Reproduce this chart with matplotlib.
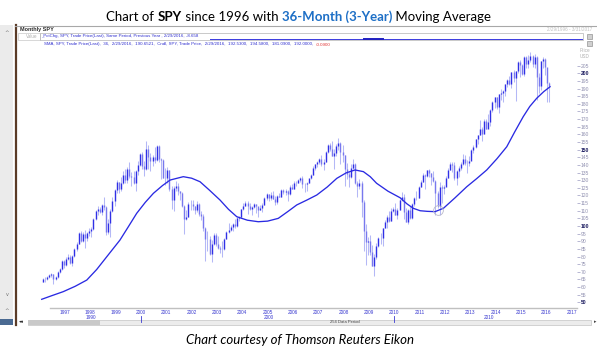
import matplotlib
matplotlib.use("Agg")
import matplotlib.pyplot as plt
from matplotlib.patches import Rectangle
import numpy as np
import pandas as pd

plt.rcParams['font.family'] = ['Lato', 'DejaVu Sans']

# monthly SPY bars, Feb 1996 .. Feb 2016 (one row per year)
closes = [
    65.0, 65.5, 66.4, 68.0, 68.3, 65.1, 66.5, 70.0, 71.9, 77.4, 74.6,
    78.6, 79.4, 75.7, 80.3, 85.2, 88.5, 95.6, 90.1, 94.8, 91.9, 95.6, 97.0,
    98.0, 104.8, 110.1, 111.1, 109.3, 113.6, 112.5, 95.9, 102.2, 110.1, 116.3, 123.3,
    128.5, 124.4, 128.4, 133.4, 130.1, 137.3, 132.9, 132.1, 128.3, 136.3, 140.0, 146.9,
    139.6, 137.4, 150.4, 145.1, 142.8, 145.3, 143.2, 152.2, 143.6, 143.0, 131.5, 131.2,
    136.9, 124.4, 116.7, 125.2, 126.2, 122.9, 121.5, 113.4, 104.4, 106.1, 114.1, 114.3,
    113.2, 110.7, 114.5, 107.7, 106.6, 98.9, 91.3, 91.6, 81.8, 88.5, 93.9, 88.2,
    85.9, 84.7, 84.7, 91.6, 96.3, 97.6, 99.3, 101.2, 99.9, 105.4, 106.2, 111.3,
    113.1, 114.8, 113.1, 110.9, 112.6, 114.5, 113.3, 110.5, 111.7, 113.7, 118.1, 120.9,
    118.2, 120.6, 118.0, 115.8, 119.5, 119.2, 123.9, 122.4, 123.0, 120.8, 125.4, 124.5,
    128.0, 128.2, 129.8, 131.5, 127.5, 127.3, 128.4, 131.4, 133.6, 138.0, 140.3, 141.6,
    144.2, 140.9, 142.0, 148.3, 153.3, 150.4, 145.7, 147.6, 152.6, 154.6, 148.7, 146.2,
    137.4, 133.8, 131.9, 138.3, 140.4, 128.0, 126.4, 128.1, 116.0, 96.8, 89.7, 90.2,
    82.8, 73.9, 79.5, 87.0, 92.0, 91.9, 98.8, 102.5, 105.6, 103.6, 109.9, 111.4,
    107.4, 110.7, 117.0, 118.8, 109.4, 102.9, 110.3, 105.3, 114.1, 118.5, 118.5, 125.8,
    128.7, 133.2, 132.6, 136.5, 134.9, 132.4, 129.3, 121.8, 113.2, 125.5, 124.9, 125.5,
    131.3, 137.0, 140.8, 139.9, 131.5, 136.1, 137.7, 140.6, 144.0, 141.4, 141.5, 142.4,
    149.7, 151.6, 156.7, 159.7, 163.5, 160.4, 168.7, 163.7, 168.0, 175.8, 181.0, 184.7,
    178.2, 186.3, 187.0, 188.3, 192.7, 195.7, 193.1, 200.7, 197.0, 201.7, 207.2, 205.5,
    199.5, 210.7, 206.4, 208.5, 211.1, 205.9, 210.5, 197.7, 191.6, 207.9, 209.3, 203.9,
    193.7, 192.0,
]
highs = [
    66.2, 66.4, 67.3, 68.7, 68.9, 68.5, 67.5, 70.4, 72.6, 77.6, 77.5,
    79.5, 81.5, 80.8, 80.9, 85.6, 89.7, 95.9, 96.5, 96.2, 97.6, 96.3, 98.5,
    99.3, 105.3, 110.8, 112.8, 112.5, 114.1, 119.0, 112.8, 104.7, 111.2, 119.0, 124.0,
    129.9, 129.0, 132.0, 136.2, 137.3, 138.9, 142.2, 135.5, 136.2, 137.0, 142.6, 147.6,
    148.3, 142.4, 155.8, 153.3, 147.5, 146.8, 151.8, 153.3, 152.9, 144.8, 143.8, 137.9,
    138.5, 137.0, 126.1, 126.0, 129.3, 128.2, 123.1, 122.4, 113.9, 110.5, 115.9, 117.2,
    117.2, 113.2, 116.2, 114.8, 109.6, 107.6, 99.4, 96.8, 93.5, 90.9, 95.4, 95.6,
    93.2, 86.9, 90.4, 92.0, 96.9, 101.7, 100.6, 101.9, 104.6, 105.8, 106.4, 111.3,
    115.2, 116.1, 116.1, 115.1, 113.2, 115.0, 114.6, 112.5, 113.6, 114.8, 118.8, 121.7,
    121.0, 122.3, 123.2, 119.4, 120.6, 121.6, 124.3, 124.1, 124.5, 123.6, 126.7, 127.6,
    129.6, 129.3, 131.0, 132.0, 132.7, 127.9, 128.6, 130.3, 134.0, 139.0, 140.9, 142.6,
    144.5, 146.4, 143.6, 149.0, 153.5, 154.4, 155.5, 150.4, 153.4, 157.5, 155.1, 152.9,
    146.5, 141.5, 136.1, 140.6, 144.1, 141.3, 129.4, 130.9, 129.5, 116.9, 101.5, 92.5,
    94.4, 87.8, 81.5, 88.6, 93.0, 95.1, 99.0, 104.0, 107.3, 109.9, 111.6, 112.7,
    115.1, 111.6, 117.7, 122.1, 120.7, 111.8, 111.0, 113.0, 115.2, 119.3, 122.9, 126.2,
    130.4, 134.7, 133.8, 136.9, 137.2, 135.0, 135.7, 130.0, 122.8, 128.5, 126.6, 127.1,
    132.7, 138.1, 142.2, 142.2, 141.9, 136.4, 139.5, 142.1, 147.2, 146.4, 142.9, 145.6,
    150.3, 153.3, 156.9, 159.7, 169.1, 164.6, 170.1, 170.0, 173.6, 176.3, 181.8, 184.7,
    184.7, 186.7, 189.7, 189.0, 193.0, 196.5, 198.3, 200.8, 201.9, 201.8, 207.8, 209.0,
    206.3, 211.2, 211.5, 211.9, 213.8, 212.3, 212.7, 211.3, 200.5, 208.0, 211.0, 210.0,
    201.2, 194.6,
]
lows = [
    63.2, 63.4, 64.6, 65.8, 66.5, 61.8, 64.8, 65.8, 69.5, 71.3, 72.4,
    73.6, 77.8, 75.3, 73.7, 79.9, 83.6, 88.2, 89.5, 89.5, 85.5, 90.5, 93.5,
    92.7, 97.2, 104.0, 107.4, 108.3, 107.4, 110.7, 94.2, 94.6, 92.8, 109.4, 113.0,
    121.5, 121.8, 122.6, 127.8, 128.0, 128.0, 131.7, 126.1, 127.4, 122.6, 133.3, 139.4,
    137.3, 132.7, 136.7, 137.4, 136.1, 139.2, 141.1, 142.8, 141.6, 130.7, 131.2, 126.6,
    128.3, 123.0, 111.3, 109.8, 123.0, 120.3, 117.3, 112.5, 94.5, 104.2, 105.6, 110.6,
    110.2, 107.7, 109.4, 106.7, 104.0, 96.6, 77.1, 83.7, 80.9, 76.3, 87.4, 87.1,
    84.9, 82.6, 79.9, 84.3, 91.4, 95.7, 96.4, 96.4, 99.0, 99.5, 103.1, 105.4,
    110.2, 112.8, 108.0, 110.4, 107.5, 111.9, 108.6, 106.2, 110.3, 108.9, 113.5, 117.0,
    116.3, 117.2, 117.4, 113.5, 114.5, 118.7, 119.0, 121.0, 120.0, 116.5, 120.6, 124.2,
    124.5, 126.0, 127.9, 128.5, 124.9, 122.2, 122.9, 127.9, 130.9, 133.3, 136.8, 138.8,
    140.4, 139.0, 136.8, 141.6, 147.7, 148.9, 145.6, 137.1, 145.8, 149.6, 140.6, 141.6,
    126.0, 131.1, 125.7, 131.2, 137.4, 127.4, 119.1, 124.0, 106.1, 83.9, 74.3, 81.0,
    80.8, 73.9, 67.1, 78.5, 86.0, 88.3, 87.2, 98.6, 98.4, 102.6, 103.5, 109.4,
    107.0, 104.6, 110.6, 116.4, 104.4, 102.9, 101.1, 104.5, 104.8, 113.2, 116.7, 118.3,
    125.7, 128.5, 124.0, 132.1, 132.2, 126.6, 128.9, 107.4, 112.0, 107.4, 115.1, 120.8,
    126.4, 131.4, 136.4, 135.3, 129.8, 127.1, 131.8, 136.6, 139.9, 140.1, 134.5, 139.2,
    145.3, 148.0, 151.4, 153.6, 159.7, 155.7, 160.3, 163.7, 164.0, 165.5, 174.9, 177.3,
    176.5, 173.7, 182.7, 181.3, 185.0, 191.2, 192.4, 190.5, 194.0, 181.9, 200.3, 197.9,
    198.6, 198.3, 203.3, 203.2, 207.1, 204.0, 203.4, 182.4, 187.3, 189.1, 203.4, 198.6,
    181.0, 181.1,
]
first_open = 63.6

# 36-month simple moving average (decimal year, price)
ma_years = [1996.08, 1996.5, 1996.93, 1997.4, 1997.86, 1998.25, 1998.65, 1999.17, 1999.5,
            1999.83, 2000.17, 2000.49, 2000.85, 2001.15, 2001.67, 2002.0, 2002.33, 2002.7,
            2003.12, 2003.45, 2003.78, 2004.2, 2004.63, 2005.0, 2005.42, 2005.8, 2006.15,
            2006.55, 2006.94, 2007.35, 2007.73, 2008.1, 2008.45, 2008.78, 2009.05, 2009.3,
            2009.75, 2010.23, 2010.5, 2010.75, 2011.02, 2011.3, 2011.61, 2011.94, 2012.4,
            2012.86, 2013.25, 2013.65, 2014.05, 2014.44, 2014.75, 2015.09, 2015.35, 2015.62,
            2015.9, 2016.15]
ma_values = [52.0, 54.5, 57.0, 60.5, 64.6, 71.5, 79.9, 90.8, 99.5,
             108.3, 115.5, 121.4, 126.5, 130.1, 132.3, 131.3, 129.0, 123.5,
             117.0, 111.0, 106.1, 103.8, 102.8, 103.2, 105.0, 109.5, 113.8,
             117.0, 120.3, 125.5, 131.2, 134.8, 136.7, 135.6, 132.3, 128.0,
             122.8, 118.5, 114.5, 111.6, 110.0, 109.6, 109.4, 111.6, 118.5,
             125.7, 131.0, 136.7, 144.0, 151.9, 161.5, 171.6, 178.3, 183.6,
             188.0, 191.2]

marker_point = (2011.74, 110.5)
year_ticks = list(range(1997, 2018))
decade_labels = [(1998.0, '1990'), (2005.05, '2000'), (2013.73, '2010')]
decade_marks = [2000, 2010]
price_ticks = list(range(50, 206, 5))

W, H = 597, 351
fig = plt.figure(figsize=(W / 100, H / 100), dpi=100)

# pixel <-> data helpers for the screenshot-like layout
def t_at(px):
    return 1997 + (px - 65) / 25.33

def v_at(py):
    return 100 + (226 - py) / 1.527

# background layer in pixel coordinates
bg = fig.add_axes([0, 0, 1, 1], zorder=0)
bg.set_xlim(0, W)
bg.set_ylim(H, 0)
bg.axis('off')

bg.add_patch(Rectangle((0, 25), 13, 300, color='#ebebeb', lw=0))
bg.plot([15.8, 15.8], [25, 325], color='#5b3c28', lw=1.6)
bg.plot([15, W], [25.5, 25.5], color='#a8a8a8', lw=0.8)
bg.text(7, 32, '^', fontsize=4, color='#707070', ha='center', va='center', family='DejaVu Sans')
bg.text(7, 294, 'v', fontsize=3.5, color='#707070', ha='center', va='center', family='DejaVu Sans')
bg.text(7, 311, '^', fontsize=4, color='#707070', ha='center', va='center', family='DejaVu Sans')
bg.add_patch(Rectangle((0, 319), 13, 6, color='#4a6a92', lw=0))
bg.text(21, 322, '◂◂', fontsize=3.5, color='#303030', ha='center', va='center', family='DejaVu Sans')

# scrollbar
bg.add_patch(Rectangle((28, 319.5), 563, 5, facecolor='#ececec', edgecolor='#c4c4c4', lw=0.5))
bg.add_patch(Rectangle((28, 319.5), 72, 5, facecolor='#c9c9c9', lw=0))
bg.text(345, 322.2, '254 Data Period', fontsize=3, color='#404040', ha='center', va='center',
        family='Liberation Sans')
bg.text(595, 322, '▸', fontsize=3.5, color='#404040', ha='center', va='center', family='DejaVu Sans')

# header rows
bg.text(20, 30, 'Monthly SPY', fontsize=4, fontweight='bold', color='#303030', va='center',
        family='Liberation Sans')
bg.add_patch(Rectangle((18, 33), 22, 7, facecolor='none', edgecolor='#c8c8c8', lw=0.5))
bg.text(37, 36.5, 'Value', fontsize=3.3, color='#b0b0b0', ha='right', va='center',
        family='Liberation Sans')
bg.add_patch(Rectangle((40, 33), 543, 7, facecolor='none', edgecolor='#b4b4b4', lw=0.5))
bg.text(41, 35.8, '_PctChg, SPY, Trade Price(Last), Same Period, Previous Year , 2/29/2016, -8.658',
        fontsize=3.2, color='#3030d0', va='center', family='Liberation Sans')
bg.plot([210, 582], [38.6, 38.6], color='#3a3ae0', lw=0.7)
bg.plot([364, 383], [38.6, 38.6], color='#2020c0', lw=1.4)
sma_txt = bg.text(44, 44.5, 'SMA, SPY, Trade Price(Last),  36,  2/29/2016,  190.6521,  Cndl, SPY, '
                  'Trade Price,  2/29/2016,  192.5300,  194.5800,  181.0900,  192.0000,  ',
                  fontsize=3.2, color='#3030d0', va='center', family='Liberation Sans')
bg.text(592, 29.5, '2/29/1996 - 3/31/2017', fontsize=3.3, color='#c0c0c0', ha='right', va='center',
        family='Liberation Sans')
bg.add_patch(Rectangle((587, 33.5), 5, 5, facecolor='#d0d0d0', edgecolor='#808080', lw=0.4))
bg.add_patch(Rectangle((587, 40.5), 5, 5, facecolor='#d0d0d0', edgecolor='#808080', lw=0.4))
bg.text(580, 50.5, 'Price', fontsize=3.3, color='#b0b0b0', va='center', family='Liberation Sans')
bg.text(580, 57, 'USD', fontsize=3.3, color='#b0b0b0', va='center', family='Liberation Sans')

renderer = fig.canvas.get_renderer()
bb = sma_txt.get_window_extent(renderer)
bg.text(44 + bb.width, 44.5, '-0.0900', fontsize=3.2, color='#e03030', va='center',
        family='Liberation Sans')


def centered_parts(parts, xc, py, size, style='normal'):
    objs = []
    for s, color, weight in parts:
        objs.append(bg.text(0, py, s, color=color, fontweight=weight, fontsize=size,
                            style=style, va='center', ha='left'))
    widths = [o.get_window_extent(renderer).width for o in objs]
    x = xc - sum(widths) / 2
    for o, w in zip(objs, widths):
        o.set_x(x)
        x += w


centered_parts([('Chart of ', 'black', 'normal'), ('SPY', 'black', 'bold'),
                (' since 1996 with ', 'black', 'normal'),
                ('36-Month (3-Year)', '#1d6fc6', 'bold'),
                (' Moving Average', 'black', 'normal')], 298.5, 17, 9.5)
centered_parts([('Chart courtesy of Thomson Reuters Eikon', 'black', 'normal')],
               299.5, 340.5, 9.5, style='italic')

# price panel
ax = fig.add_axes([17 / W, 1 - 305 / H, 560 / W, 269 / H], zorder=2)
ax.patch.set_alpha(0)
ax.set_xlim(t_at(17), t_at(577))
ax.set_ylim(v_at(305), v_at(36))
for s in ax.spines.values():
    s.set_visible(False)
ax.set_xticks([])
ax.yaxis.tick_right()
ax.set_yticks(price_ticks)
ax.set_yticklabels([str(p) for p in price_ticks])
ax.tick_params(axis='y', length=1.8, width=0.5, color='#9a9ac0', labelsize=3.6, pad=0.8,
               labelcolor='#9090b0')
for lab, p in zip(ax.get_yticklabels(), price_ticks):
    lab.set_family('Liberation Sans')
    if p % 50 == 0:
        lab.set_fontweight('bold')
        lab.set_color('#1c1c60')

months = pd.date_range('1996-02-01', periods=len(closes), freq='MS')
t = months.year + (months.month - 0.5) / 12
c = np.array(closes)
o = np.array([first_open] + closes[:-1])
up = c >= o
ax.vlines(t, lows, highs, color='#b4b8f6', lw=0.75)
ax.vlines(t[up], o[up], c[up], color='#3030e6', lw=1.0)
ax.vlines(t[~up], o[~up], c[~up], color='#7878ee', lw=1.0)
ax.plot(ma_years, ma_values, color='#2a2ae2', lw=0.95, solid_joinstyle='round')
ax.plot([marker_point[0]], [marker_point[1]], 'o', ms=7, mfc='none', mec='#b8b8c8', mew=0.6)

# date axis strip
dax = fig.add_axes([50 / W, 1 - 325 / H, 527 / W, 17 / H], zorder=2)
dax.patch.set_alpha(0)
dax.set_xlim(t_at(50), t_at(577))
dax.set_ylim(0, 1)
for k, s in dax.spines.items():
    s.set_visible(k == 'top')
dax.spines['top'].set_color('#c0c0c0')
dax.spines['top'].set_linewidth(1.0)
dax.set_xticks([])
dax.set_yticks([])
tr = dax.get_xaxis_transform()
for y in year_ticks:
    dax.text(y, 0.72, str(y), transform=tr, fontsize=3.4, color='#3a3ad0', ha='center',
             va='center', family='Liberation Sans')
for xpos, lab in decade_labels:
    dax.text(xpos, 0.43, lab, transform=tr, fontsize=3.4, color='#3a3ad0', ha='center',
             va='center', family='Liberation Sans')
for d in decade_marks:
    dax.plot([d, d], [0.52, 0.18], transform=tr, color='#3a3ad0', lw=0.6)

fig.savefig('out.png', dpi=100)
